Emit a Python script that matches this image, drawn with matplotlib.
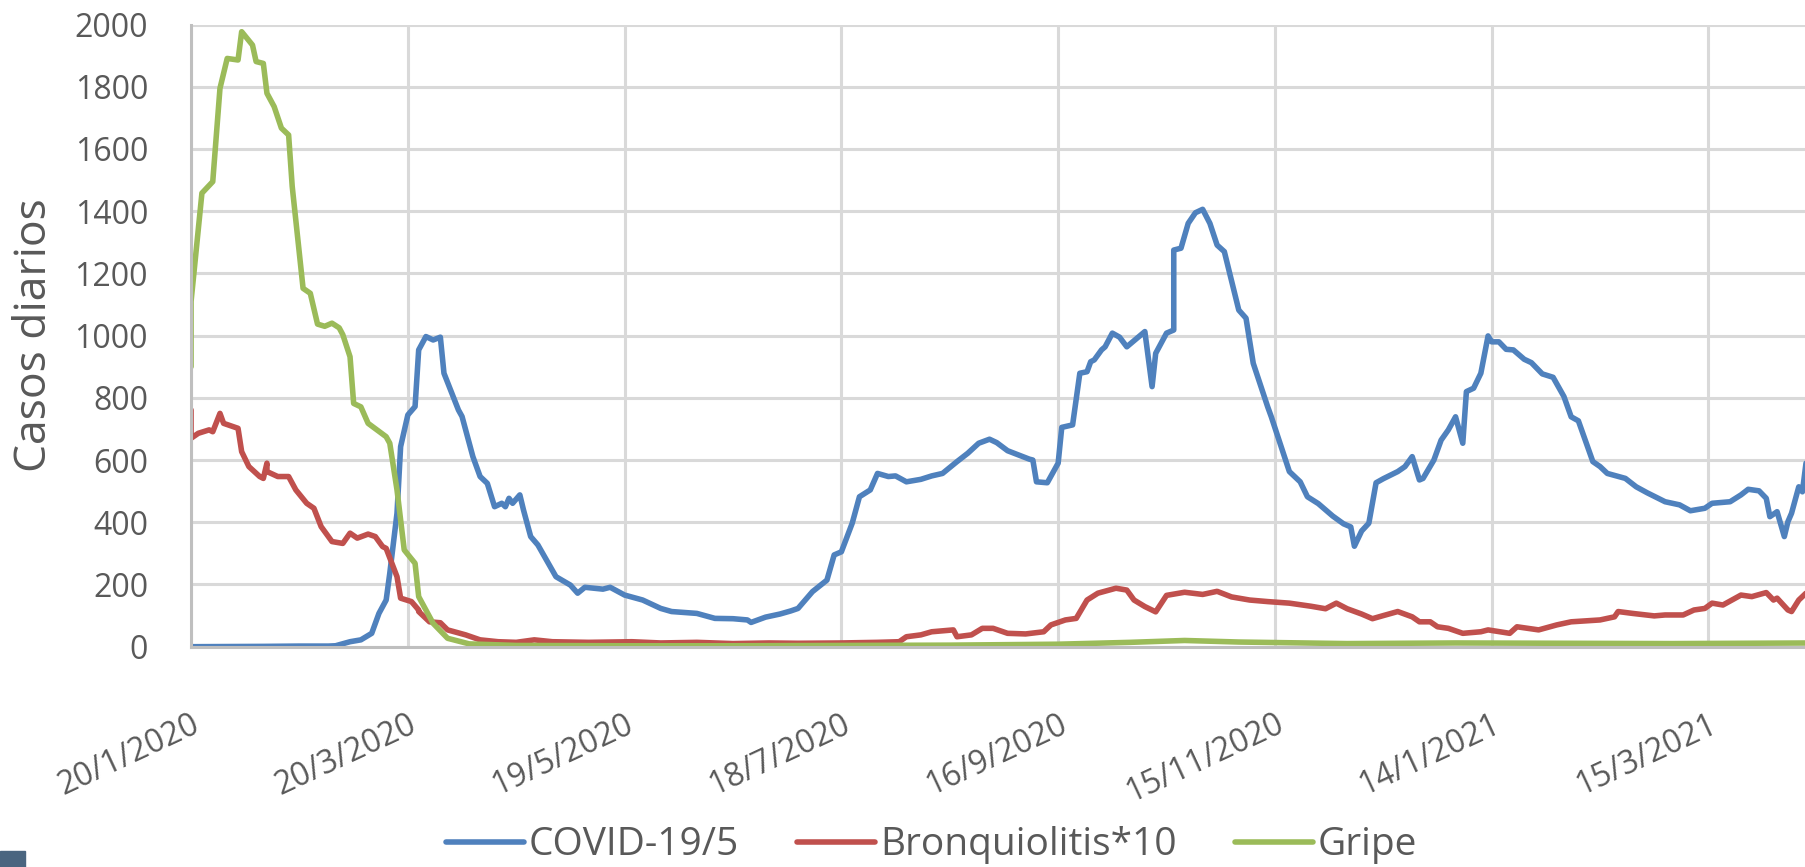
import datetime as dt

import matplotlib
matplotlib.use("Agg")
from matplotlib import pyplot as plt
from matplotlib.patches import Rectangle

start = dt.date(2020, 1, 20)

# days counted from 20/1/2020
covid_days = [0, 20, 30, 38, 40, 44, 47.7, 50.5, 52.8, 54.7, 55.6, 57, 58.8, 60.2, 62,
              63.9, 65.7, 67.1, 69, 70.8, 74, 75.9, 78.7, 80.5, 82.8, 84.2, 86.1, 87,
              88.2, 89.8, 91.1, 92.1, 94.8, 96.7, 101.8, 105, 107.8, 109.1, 114.2, 116.1,
              120.7, 125.3, 130.8, 133.2, 140.1, 145.6, 150, 154.4, 155.5, 159, 163, 166,
              168.7, 172.4, 176.1, 178.9, 180.7, 183.5, 185.8, 188.1, 190.4, 193.2, 195.5,
              198.7, 202.9, 205.6, 208.9, 212.1, 215.8, 218.1, 221.3, 223.6, 226.4, 232.4,
              233.8, 234.7, 237.1, 240.3, 241.7, 244, 246.3, 248.3, 249, 250.9, 252.2,
              253.6, 255, 257.3, 259.6, 264.7, 266.1, 267.5, 270.2, 272.1, 272.9, 274.4,
              276.2, 278.1, 280, 282.3, 284.1, 286, 290.6, 292.9, 294.7, 298, 299.8, 304.9,
              307.2, 309, 312, 316, 319, 321, 322, 324.4, 326.7, 328.3, 330.8, 334, 336.8,
              338.6, 340.4, 341.8, 344.1, 346.9, 348.8, 350.6, 352, 353.8, 355.7, 357.5,
              359.1, 360.3, 362.1, 364.5, 366.8, 369.5, 371.4, 374.2, 377, 380.2, 382.9,
              384.3, 388.5, 390.3, 392.1, 397.7, 400.5, 403.2, 408.8, 412, 415.2, 419,
              421.7, 426.3, 429.1, 431.9, 434.6, 436.9, 437.9, 439.2, 441.1, 442.5, 443.9,
              445.2, 446.6, 447.4, 449]
covid_vals = [0, 1, 2, 2, 3, 16, 22, 43, 107, 150, 236, 429, 643, 745, 772,
              954, 997, 986, 995, 879, 761, 740, 611, 547, 525, 450, 461, 450,
              477, 461, 488, 440, 354, 327, 225, 198, 172, 191, 185, 191,
              166, 150, 123, 113, 107, 91, 90, 86, 78, 95, 105, 115,
              123, 177, 214, 295, 305, 397, 482, 504, 557, 547, 549,
              530, 538, 549, 557, 595, 622, 654, 667, 656, 630, 603,
              600, 530, 527, 590, 705, 713, 879, 884, 916, 922, 954,
              964, 1008, 995, 964, 1013, 836, 943, 1008, 1018, 1275, 1281,
              1361, 1395, 1406, 1361, 1291, 1270, 1082, 1056, 911, 771, 739, 563,
              530, 482, 460, 420, 395, 385, 323, 372, 397, 527, 540, 563, 579,
              611, 536, 541, 600, 664, 697, 739, 654, 820, 831, 879,
              999, 980, 980, 956, 954, 924, 913, 877, 866, 804, 739,
              726, 595, 579, 557, 541, 514, 495, 466, 456, 437, 445,
              461, 466, 488, 506, 501, 477, 418, 434, 354, 402, 429,
              514, 498, 590, 620]

bronq_days = [0, 0.6, 2.5, 5.7, 6.6, 8.5, 9.9, 13.1, 14, 16.3, 19.1, 20, 21, 21.9, 24.2,
              27, 29.7, 32, 34.3, 36.6, 39, 42.7, 44.5, 46.8, 49.1, 51.9, 53.3, 54.7, 57,
              58.8, 61.1, 63, 63.9, 66.2, 69, 71.7, 76.4, 80, 85.6, 90, 95.8, 100, 110,
              122, 130, 140, 150, 160, 168.7, 180, 190, 196.4, 198.3, 202.9, 205.6, 211.2,
              212.6, 216.7, 219.5, 222.3, 226, 231.5, 236.6, 238.9, 242.6, 245.8, 248.1,
              251.8, 256.4, 259.6, 261.9, 264.7, 267, 270, 275, 280, 284, 288, 293, 298,
              304, 310, 314, 317, 320, 324, 327, 330, 334.9, 338.6, 340.4, 343.2, 345.1,
              348.8, 352.5, 357.1, 359.4, 365.4, 367.2, 373.7, 378.3, 382.9, 390.3, 394,
              395.8, 399.5, 405, 408.8, 413.4, 416.1, 419.8, 421.7, 424.9, 429.1, 432.8,
              436, 438.3, 439.7, 442, 443.4, 445.2, 447.1, 449]
bronq_vals = [761, 670, 686, 697, 691, 750, 718, 702, 627, 579, 547, 541, 590, 563, 547,
              547, 504, 461, 445, 386, 338, 332, 365, 349, 362, 354, 322, 316, 225,
              156, 145, 118, 113, 80, 77, 54, 38, 22, 16, 14, 22, 16, 14,
              16, 12, 14, 10, 12, 11, 12, 14, 16, 32, 38, 48, 54,
              32, 38, 59, 59, 43, 41, 48, 70, 86, 91, 150,
              172, 188, 182, 150, 129, 112, 165, 175, 168, 178, 160, 150, 145,
              140, 130, 122, 140, 122, 105, 90, 100, 113, 96, 80, 80, 64,
              59, 43, 48, 54, 43, 64, 54, 70, 80, 86, 96,
              113, 107, 99, 102, 102, 118, 123, 140, 134, 166, 161,
              174, 150, 156, 118, 113, 150, 172, 175]

gripe_days = [0, 0.6, 3.9, 6.2, 8.5, 10.8, 13.1, 14.5, 17.3, 18.2, 20.3, 21.4, 23.3, 25.1,
              27, 28.3, 31.6, 33.9, 35.6, 37, 39.4, 41, 42.5, 44, 45.9, 47.7, 49.6, 54.2,
              55.6, 57.4, 59.3, 62, 63.9, 67.1, 71.7, 77.3, 90, 120, 150, 180, 210, 240,
              260, 275, 290, 320, 350, 380, 410, 449]
gripe_vals = [900, 1110, 1458, 1495, 1795, 1891, 1886, 1977, 1934, 1881, 1875, 1779, 1736, 1667,
              1645, 1479, 1152, 1136, 1037, 1030, 1040, 1025, 1003, 932, 782, 771, 718, 675,
              654, 504, 311, 268, 161, 75, 27, 9, 4, 3, 3, 4, 5, 8,
              14, 20, 15, 10, 12, 11, 10, 12]

series_names = ["COVID-19/5", "Bronquiolitis*10", "Gripe"]
tick_days = [0, 60, 120, 180, 240, 300, 360, 420]
y_ticks = [0, 200, 400, 600, 800, 1000, 1200, 1400, 1600, 1800, 2000]

BLUE = "#4F81BD"
RED = "#C0504D"
GREEN = "#9BBB59"
TEXT = "#595959"


def to_dates(days):
    return [start + dt.timedelta(days=d) for d in days]


plt.rcParams["font.family"] = ["Open Sans", "DejaVu Sans"]

fig = plt.figure(figsize=(18.06, 8.67), dpi=100)
ax = fig.add_axes([0.1058, 0.2541, 0.8942, 0.7176])

lw = 4.0
for days, vals, color, name in [
    (covid_days, covid_vals, BLUE, series_names[0]),
    (bronq_days, bronq_vals, RED, series_names[1]),
    (gripe_days, gripe_vals, GREEN, series_names[2]),
]:
    ax.plot(to_dates(days), vals, color=color, lw=lw, label=name,
            solid_joinstyle="round", solid_capstyle="round")

ax.set_xlim(start, start + dt.timedelta(days=447.4))
ax.set_ylim(0, 2000)

tick_dates = to_dates(tick_days)
ax.set_xticks(tick_dates)
ax.set_xticklabels([f"{d.day}/{d.month}/{d.year}" for d in tick_dates],
                   rotation=25, ha="right", va="top", rotation_mode="anchor")
ax.set_yticks(y_ticks)
ax.tick_params(axis="both", length=0, labelsize=23, colors=TEXT)
ax.tick_params(axis="x", pad=44)
ax.tick_params(axis="y", pad=31)

ax.grid(True, color="#D9D9D9", lw=2.2)
ax.set_axisbelow(True)
for side in ["top", "right"]:
    ax.spines[side].set_visible(False)
for side in ["left", "bottom"]:
    ax.spines[side].set_color("#BFBFBF")
    ax.spines[side].set_linewidth(2.2)

ax.set_ylabel("Casos diarios", fontsize=32, color=TEXT)
ax.yaxis.set_label_coords(-0.083, 0.5)

handles, labels = ax.get_legend_handles_labels()
fig.legend(handles, labels, loc="center", bbox_to_anchor=(0.5158, 0.025), ncol=3,
           frameon=False, fontsize=28, labelcolor=TEXT, handlelength=2.0,
           handletextpad=0.12, columnspacing=1.5)

fig.patches.append(Rectangle((0, 0), 25 / 1806, 16 / 867, transform=fig.transFigure,
                             color="#4A6580", zorder=5))

fig.savefig("out.png", dpi=100)
